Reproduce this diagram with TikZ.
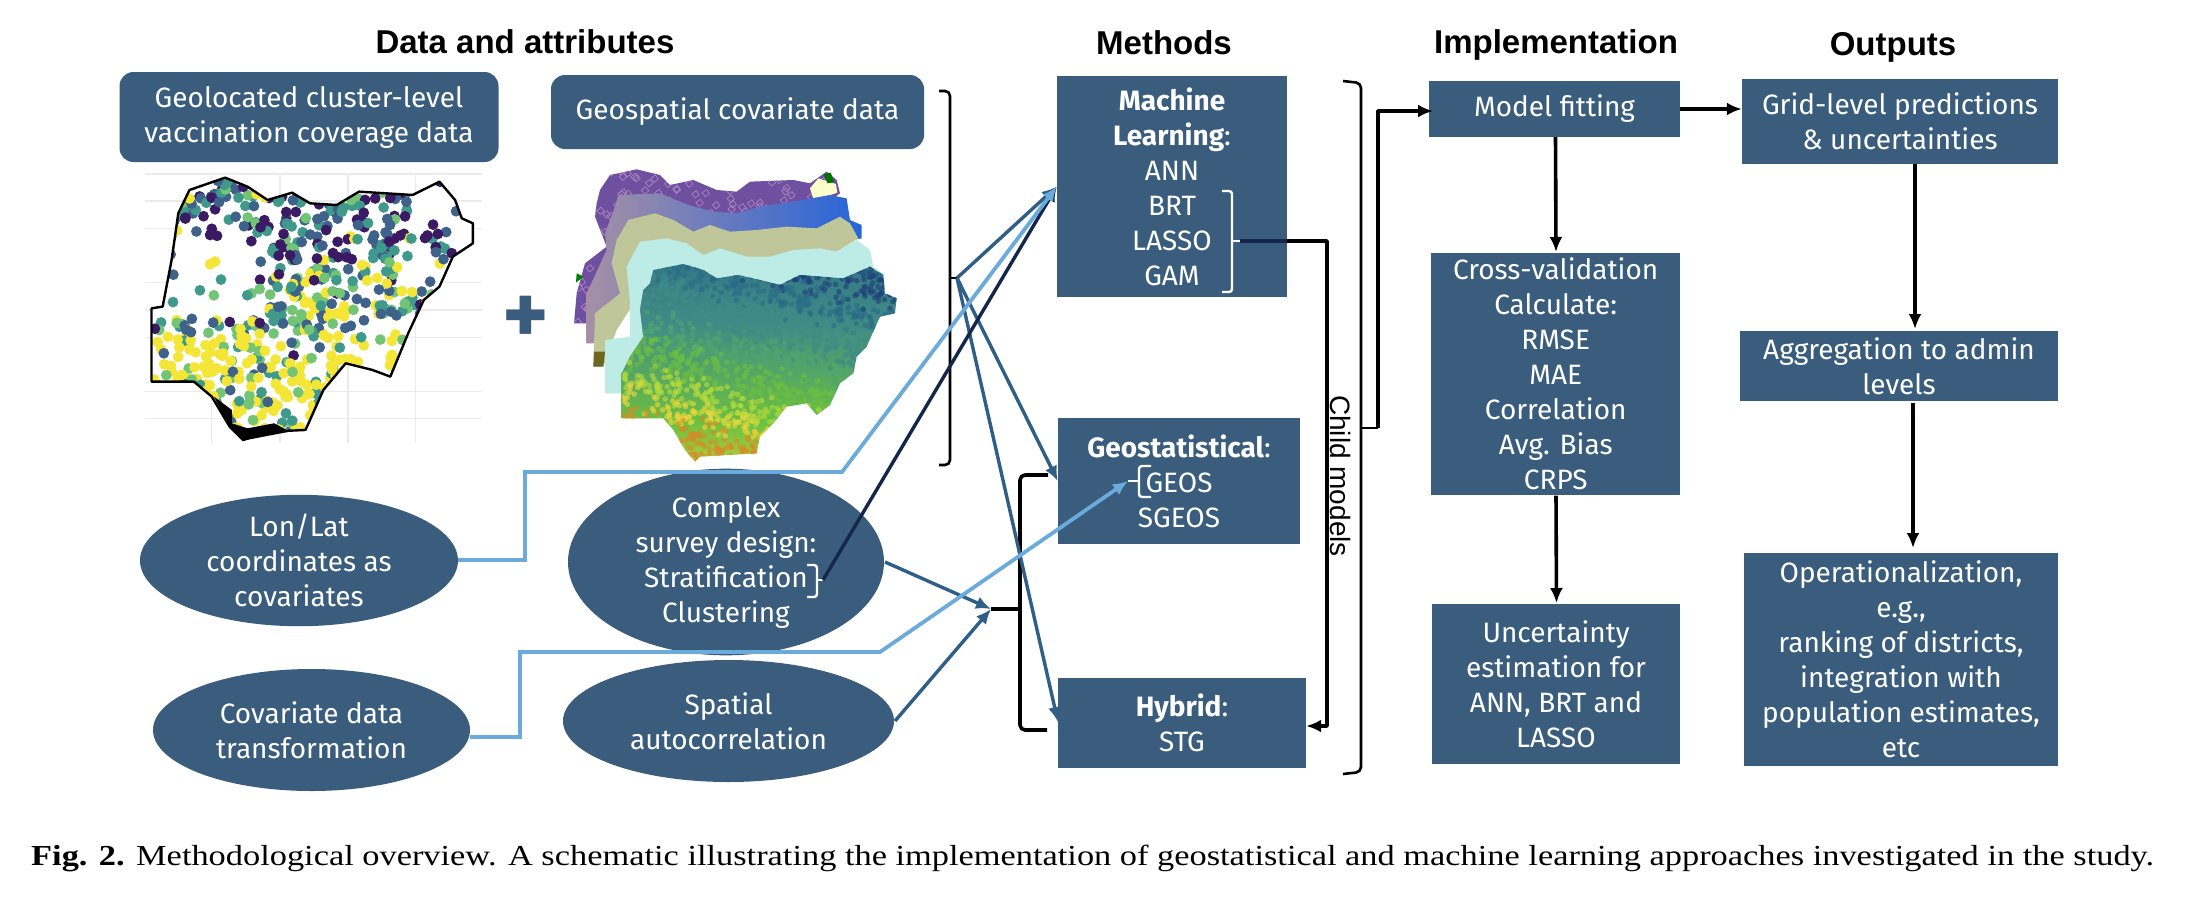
\documentclass[tikz,border=0pt]{standalone}
\usepackage{fontspec}
\setmainfont{Fira Sans}
\newfontfamily\capfont[FakeStretch=1.185]{Liberation Serif}
\newfontfamily\headfont{Liberation Sans}
\usetikzlibrary{arrows.meta,shapes.geometric}
\definecolor{boxc}{HTML}{3A5D7E}
\definecolor{lblue}{HTML}{6BABDB}
\definecolor{navyl}{HTML}{14264A}
\definecolor{midl}{HTML}{2F5F87}
\definecolor{dotca}{HTML}{3A1A62}
\definecolor{dotcb}{HTML}{3E6289}
\definecolor{dotcc}{HTML}{3F9A8C}
\definecolor{dotcd}{HTML}{74C476}
\definecolor{dotce}{HTML}{F4E637}
\definecolor{fa}{HTML}{1F3F7A}
\definecolor{fb}{HTML}{2B6A86}
\definecolor{fc}{HTML}{3F8C86}
\definecolor{fd}{HTML}{4FA66F}
\definecolor{fe}{HTML}{6CC040}
\definecolor{ff}{HTML}{B8DC3C}
\definecolor{fg}{HTML}{F0D93C}
\definecolor{fh}{HTML}{D98A25}
\definecolor{layp}{HTML}{6F4FA0}
\definecolor{layk}{HTML}{BFC79A}
\definecolor{layc}{HTML}{BDEBE6}
\pgfdeclareverticalshading{ngshade}{100bp}{
 color(0bp)=(fh);
 color(15bp)=(fg);
 color(35bp)=(fe);
 color(60bp)=(fc);
 color(85bp)=(fb);
 color(100bp)=(fa)}
\def\ngoutline{(205,1145)--(205,925)--(230,920)--(250,780)--(265,640)--(290,570)--(370,533)--(420,560)--(465,600)--(520,578)--(560,610)--(620,615)--(670,575)--(790,585)--(850,545)--(885,600)--(900,655)--(925,670)--(925,730)--(880,770)--(850,860)--(815,900)--(780,1000)--(740,1130)--(700,1110)--(640,1090)--(590,1170)--(550,1290)--(470,1295)--(410,1320)--(380,1280)--(340,1190)--(300,1145)--cycle}
\def\mainoutline{(280,330)--(370,312)--(430,330)--(470,355)--(535,345)--(600,360)--(660,375)--(720,345)--(850,355)--(930,320)--(970,345)--(975,400)--(1010,415)--(1005,460)--(960,470)--(920,560)--(890,590)--(880,640)--(840,670)--(810,735)--(770,765)--(740,730)--(680,740)--(640,790)--(600,830)--(590,880)--(420,890)--(405,905)--(375,870)--(340,810)--(310,775)--(185,775)--(185,640)--(210,590)--(250,530)--(240,450)--(250,390)--(270,370)--cycle}
\def\purpleoutline{(110,130)--(120,90)--(150,45)--(230,28)--(300,45)--(330,75)--(400,60)--(470,90)--(530,95)--(570,65)--(700,60)--(750,70)--(800,35)--(830,60)--(840,100)--(700,200)--(300,320)--(90,490)--(42,490)--(50,400)--(75,310)--(140,260)--(105,170)--cycle}
\tikzset{
 base/.style={fill=boxc,text=white,align=center,inner sep=0pt,font=\fontsize{28}{35}\selectfont},
 sqbox/.style={base,rectangle},
 rbox/.style={base,rectangle,rounded corners=14pt},
 oval/.style={base,ellipse},
 heading/.style={font=\headfont\bfseries\fontsize{33}{36}\selectfont,inner sep=0pt},
 tip/.style={-{Latex[length=15pt,width=13pt]}},
 blk/.style={draw=black,line width=3.6pt,line join=round},
 thinblk/.style={draw=black,line width=2.6pt,rounded corners=5pt},
 whitebr/.style={draw=white,line width=2.4pt,rounded corners=3pt},
 lb/.style={draw=lblue,line width=3.8pt},
 mb/.style={draw=midl,line width=3.4pt},
 nv/.style={draw=navyl,line width=3.4pt},
}
\begin{document}
\begin{tikzpicture}[x=1pt,y=-1pt]
\useasboundingbox (0,0) rectangle (2188,898);
\fill[white] (0,0) rectangle (2188,898);

% ---- titles
\node[heading] (t1) at (525,42) {Data and attributes};
\node[heading] (t2) at (1164,43) {Methods};
\node[heading] (t3) at (1556,45) {Implementation};
\node[heading] (t4) at (1893,47) {Outputs};

% ---- map 1
\begin{scope}[shift={(60,0)},x=.4464pt,y=-.3333pt]
 \foreach \yy in {522,603,685,847,930,1012,1175,1255}
   \draw[black!8,line width=1.4pt] (190,\yy) -- (945,\yy);
 \foreach \xx in {340,493,645,797}
   \draw[black!8,line width=1.4pt] (\xx,522) -- (\xx,1330);
 \fill[white] \ngoutline;
 \begin{scope}
 \clip \ngoutline;
 \pgfmathsetseed{4711}
 \foreach \i in {1,...,1150}{
  \pgfmathsetmacro\px{205+720*rnd}
  \pgfmathsetmacro\py{533+790*rnd}
  \pgfmathsetmacro\pc{rnd}
  \pgfmathsetmacro\pk{rnd}
  \pgfmathtruncatemacro\keep{((\px>780 && \py<860 && \pk<.78) || (\px<470 && \py>700 && \py<960 && \pk<.75) || (\px>640 && \py>950 && \pk<.6)) ? 0 : 1}
  \ifnum\keep=1
  \pgfmathtruncatemacro\cc{\py<780 ? (\pc<.34?1:(\pc<.62?2:(\pc<.9?3:(\pc<.96?4:5)))) : (\py<1000 ? (\pc<.06?1:(\pc<.28?2:(\pc<.5?3:(\pc<.72?4:5)))) : (\pc<.02?1:(\pc<.1?2:(\pc<.24?3:(\pc<.36?4:5)))))}
  \ifcase\cc\or\def\cn{dotca}\or\def\cn{dotcb}\or\def\cn{dotcc}\or\def\cn{dotcd}\or\def\cn{dotce}\fi
  \fill[color=\cn] (\px,\py) circle[radius=5.4pt];
  \fi
 }
 \end{scope}
 \fill[black] (345,1190)--(385,1230)--(385,1270)--(420,1285)--(480,1270)--(515,1295)--(410,1322)--(380,1285)--cycle;
 \draw[black,line width=2.4pt,line join=round] \ngoutline;
\end{scope}

\node[font=\fontsize{88}{88}\selectfont\bfseries,text=boxc,inner sep=0pt] (plus) at (526,320) {+};

% ---- map 2 : stacked layers
\begin{scope}[shift={(560,160)},x=.3333pt,y=-.3333pt]
 \fill[layp] \purpleoutline;
 \begin{scope}
  \clip \purpleoutline;
  \pgfmathsetseed{99}
  \foreach \i in {1,...,260}{
   \pgfmathsetmacro\px{40+800*rnd}
   \pgfmathsetmacro\py{25+470*rnd}
   \draw[violet!35!layp!60!white,line width=.7pt] (\px,\py) -- ++(10,12) -- ++(12,-10) -- ++(-9,-12) -- cycle;
  }
 \end{scope}
 \fill[yellow!20!white] (750,85)--(775,55)--(828,72)--(832,98)--(762,122)--cycle;
 \fill[green!45!black] (790,42)--(812,38)--(823,66)--(803,70)--cycle;
 \fill[green!50!black] (50,340)--(70,350)--(48,368)--cycle;
 \shade[left color=violet!25!gray!70,right color=blue!65!cyan!70!gray] (175,105)--(300,100)--(385,135)--(460,155)--(530,160)--(600,140)--(700,125)--(810,105)--(860,115)--(870,180)--(905,195)--(905,235)--(880,240)--(400,300)--(180,400)--(100,550)--(80,550)--(80,400)--(140,270)--(135,220)--(165,140)--cycle;
 \fill[layk] (170,240)--(205,180)--(285,160)--(340,180)--(400,215)--(450,195)--(510,215)--(590,210)--(680,200)--(770,205)--(840,170)--(870,190)--(895,235)--(830,275)--(640,300)--(400,300)--(230,400)--(215,440)--(170,510)--(130,620)--(100,620)--(105,460)--(180,400)--(155,310)--cycle;
 \fill[olive!70!black] (102,575)--(135,575)--(130,620)--(100,620)--cycle;
 \fill[layc] (200,320)--(240,245)--(320,235)--(380,250)--(430,285)--(480,265)--(560,290)--(630,290)--(700,270)--(780,265)--(830,275)--(890,240)--(930,270)--(940,320)--(975,345)--(900,420)--(500,500)--(250,600)--(180,700)--(135,700)--(135,540)--(210,530)--(210,430)--cycle;
 \shade[shading=ngshade] \mainoutline;
 \begin{scope}
  \clip \mainoutline;
  \pgfmathsetseed{321}
  \foreach \i in {1,...,2000}{
   \pgfmathsetmacro\px{185+825*rnd}
   \pgfmathsetmacro\py{312+593*rnd}
   \pgfmathtruncatemacro\hv{100*((\py-320)/580+(500-\px)/2200+.05+.10*rnd-.05)}
   \def\cn{fh}
   \ifnum\hv<91 \def\cn{fg}\fi
   \ifnum\hv<81 \def\cn{ff}\fi
   \ifnum\hv<69 \def\cn{fe}\fi
   \ifnum\hv<53 \def\cn{fd}\fi
   \ifnum\hv<40 \def\cn{fc}\fi
   \ifnum\hv<20 \def\cn{fb}\fi
   \ifnum\hv<6 \def\cn{fa}\fi
   \fill[color=\cn,opacity=.6] (\px,\py) circle[radius=2.8pt];
  }
 \end{scope}
\end{scope}

% ---- data nodes
\node[rbox,minimum width=379pt,minimum height=90pt] (geoloc) at (309,117) {Geolocated cluster-level\\vaccination coverage data};
\node[rbox,minimum width=373pt,minimum height=74pt] (geosp) at (737.5,112) {Geospatial covariate data};
\node[oval,minimum width=318pt,minimum height=123pt] (lonlat) at (299,560.5) {Lon/Lat\\coordinates as\\covariates};
\node[oval,minimum width=316pt,minimum height=159pt] (survey) at (726,562) {Complex\\survey design:\\Stratification\\Clustering};
\node[oval,minimum width=317pt,minimum height=122pt] (transf) at (311.5,730) {Covariate data\\transformation};
\node[oval,minimum width=331pt,minimum height=122pt] (spatial) at (728.5,721) {Spatial\\autocorrelation};

% ---- method nodes
\node[sqbox,minimum width=230pt,minimum height=221pt] (ml) at (1172,186.5) {\textbf{Machine}\\\textbf{Learning}:\\ANN\\BRT\\LASSO\\GAM};
\node[sqbox,minimum width=242pt,minimum height=126pt] (geostat) at (1179,481) {\textbf{Geostatistical}:\\GEOS\\SGEOS};
\node[sqbox,minimum width=248pt,minimum height=90pt] (hybrid) at (1182,723) {\textbf{Hybrid}:\\STG};
\node[inner sep=0pt,rotate=-90,font=\headfont\fontsize{28}{30}\selectfont] (child) at (1340,476) {Child models};

% ---- implementation
\node[sqbox,minimum width=251pt,minimum height=56pt] (fit) at (1554.5,109) {Model fitting};
\node[sqbox,minimum width=249pt,minimum height=242pt] (cv) at (1555.7,374.2) {Cross-validation\\Calculate:\\RMSE\\MAE\\Correlation\\Avg. Bias\\CRPS};
\node[sqbox,minimum width=248pt,minimum height=160pt] (unc) at (1556,684) {Uncertainty\\estimation for\\ANN, BRT and\\LASSO};

% ---- outputs
\node[sqbox,minimum width=316pt,minimum height=85pt] (grid) at (1900,121.5) {Grid-level predictions\\\& uncertainties};
\node[sqbox,minimum width=318pt,minimum height=70pt] (agg) at (1899,366) {Aggregation to admin\\levels};
\node[sqbox,minimum width=313.5pt,minimum height=213pt] (op) at (1901,659.5) {Operationalization,\\e.g.,\\ranking of districts,\\integration with\\population estimates,\\etc};

% ---- junction coordinates
\coordinate (covj) at (957,278);
\coordinate (lona) at (525,560);
\coordinate (lonb) at (525,472);
\coordinate (lonc) at (842,472);
\coordinate (trna) at (520,737);
\coordinate (trnb) at (520,652);
\coordinate (trnc) at (880,652);
\coordinate (surveyt) at (823,580);
\coordinate (geosin) at (1128,481);
\coordinate (join) at (991,609);
\coordinate (brk) at (1020,609);
\coordinate (lasso) at (1240,241);
\coordinate (drop) at (1327,241);
\coordinate (hybin) at (1327,726);
\coordinate (childj) at (1378,428);
\coordinate (childu) at (1378,111);
\coordinate (fitin) at (1433,111);
\coordinate (gridout) at (1915,164);
\coordinate (aggin) at (1915,329);
\coordinate (aggout) at (1913,403);
\coordinate (opin) at (1913,548);
\coordinate (cvin) at (1556,252);
\coordinate (uncin) at (1556.5,603);
\coordinate (cvout) at (1556,495.5);
\coordinate (fitout) at (1555.5,137);
\coordinate (hybl) at (1058,722);

% ---- brackets
\draw[thinblk] (939,91) -- (950,91) -- (950,465) -- (939,465);
\draw[thinblk] (950,278) -- (covj);
\draw[thinblk] (1343,81) -- (1361,83) -- (1361,772) -- (1343,774);
\draw[thinblk] (1361,428) -- (childj);
\draw[whitebr] (1222,191) -- (1232,191) -- (1232,292) -- (1222,292);
\draw[whitebr] (1232,241) -- (lasso);
\draw[whitebr] (1151,466) -- (1139,466) -- (1139,497) -- (1151,497);
\draw[whitebr] (1139,481) -- (geosin);
\draw[whitebr] (807,565) -- (817,565) -- (817,597) -- (807,597);
\draw[whitebr] (817,580) -- (surveyt);
\draw[blk,rounded corners=5pt] (1048,475) -- (brk |- 0,475) -- (brk) -- (brk |- 0,730) -- (1047,730);
\draw[blk] (brk) -- (join);

% ---- connectors
\draw[mb,tip] (covj) -- (ml.west);
\draw[mb,tip] (covj) -- (geostat.west);
\draw[mb,tip] (covj) -- (hybl);
\draw[mb,tip] (885,562) -- (join);
\draw[mb,tip] (895,721) -- (join);
\draw[nv,tip] (surveyt) -- (ml.west);
\draw[lb,tip] (lonlat.east |- lona) -- (lona) -- (lonb) -- (lonc) -- (ml.west);
\draw[lb,tip] (transf.east |- trna) -- (trna) -- (trnb) -- (trnc) -- (geosin);
\draw[nv] (lasso) -- (ml.east |- lasso);
\draw[blk,tip] (ml.east |- lasso) -- (drop) -- (hybin) -- (hybrid.east |- hybin);
\draw[blk,tip] (childj) -- (childu) -- (fitin);
\draw[blk,tip] (fit.east) -- (fit.east -| grid.west);
\draw[blk,tip] (fitout) -- (cvin);
\draw[blk,tip] (cvout) -- (uncin);
\draw[blk,tip] (gridout) -- (aggin);
\draw[blk,tip] (aggout) -- (opin);

% ---- caption
\node[anchor=west,inner sep=0pt,font=\capfont\fontsize{29}{32}\selectfont] (cap) at (31,858) {\textbf{Fig. 2.} Methodological overview. A schematic illustrating the implementation of geostatistical and machine learning approaches investigated in the study.};
\end{tikzpicture}
\end{document}
